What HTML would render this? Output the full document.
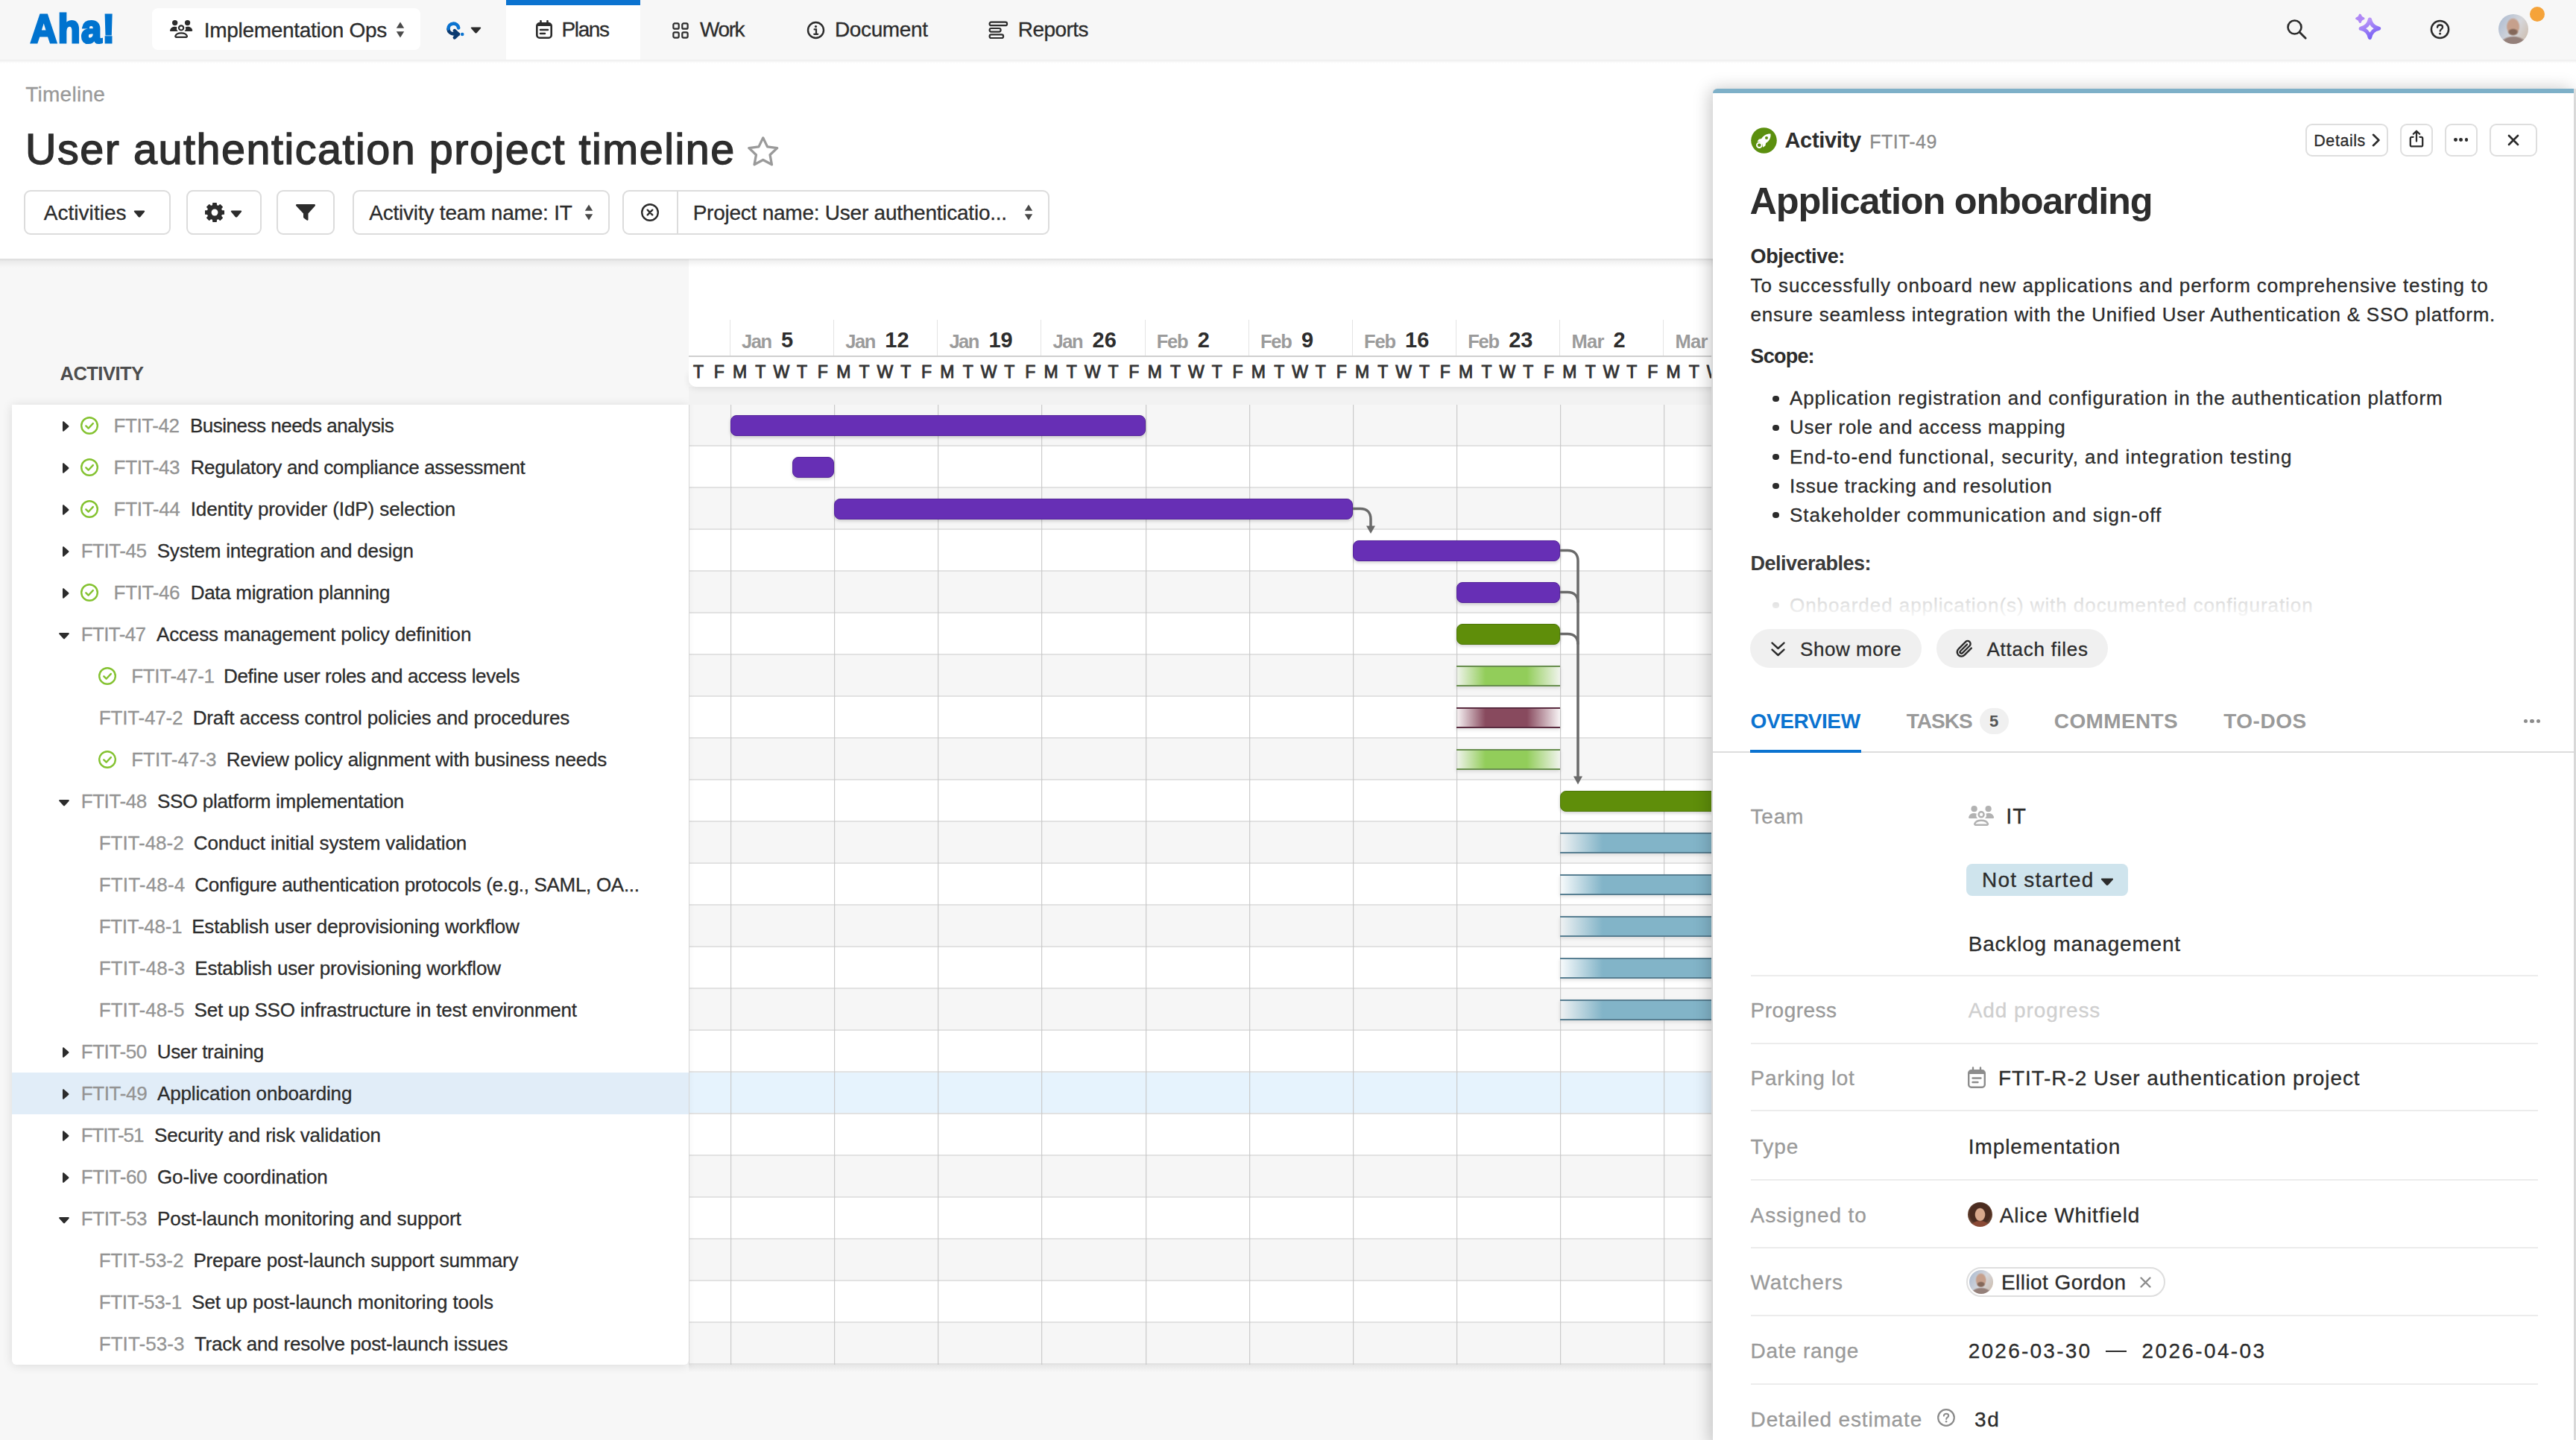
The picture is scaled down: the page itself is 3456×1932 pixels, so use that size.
<!DOCTYPE html>
<html lang="en"><head><meta charset="utf-8"><title>User authentication project timeline</title>
<style>
html,body{margin:0;padding:0}
body{width:3456px;height:1932px;overflow:hidden;background:#f7f7f7;font-family:"Liberation Sans",sans-serif;position:relative}
#app{position:absolute;left:0;top:0;width:3456px;height:1932px;overflow:hidden}
.b{position:absolute;display:block}
.t{position:absolute;white-space:nowrap;font-weight:400}
</style></head>
<body>
<div id="app">
<div class="b" style="left:0px;top:0px;width:3456px;height:80px;background:#f7f7f7;"></div>
<div class="b" style="left:0px;top:80px;width:2298px;height:268px;background:#fff;"></div>
<div class="b" style="left:2298px;top:80px;width:1158px;height:40px;background:#fff;"></div>
<div class="t" style="left:41.4px;top:6.4px;font-size:53.5px;line-height:66px;font-weight:700;color:#0073cf;-webkit-text-stroke:3.2px #0073cf;transform-origin:0 0;transform:scaleX(.915);letter-spacing:1.5px">Aha!</div>
<div class="b" style="left:204px;top:11px;width:360px;height:56px;background:#fff;border-radius:8px;"></div>
<svg class="b" style="left:227px;top:26px" width="32" height="26" viewBox="0 0 32 26"><g fill="#2c2c2c"><circle cx="7.650" cy="4.600" r="3.650"/><circle cx="24.550" cy="4.600" r="3.650"/><path d="M2.200 15.900C1.300 15.900.800 15.200 1 14.400 1.800 11.500 4.300 9.800 7.400 9.800c1.200 0 2.300.200 3.200.700-.500.900-.700 1.900-.500 3 .200.900.700 1.700 1.700 2.400z"/><path transform="translate(32.200 0) scale(-1 1)" d="M2.200 15.900C1.300 15.900.800 15.200 1 14.400 1.800 11.500 4.300 9.800 7.400 9.800c1.200 0 2.300.200 3.200.700-.500.900-.700 1.900-.500 3 .200.900.700 1.700 1.700 2.400z"/></g><circle cx="16.100" cy="11.400" r="3.100" fill="none" stroke="#2c2c2c" stroke-width="2.200"/><path d="M9.400 23.800c-.800 0-1.300-.700-1.100-1.400.900-2.600 3.800-4 7.800-4s6.900 1.400 7.800 4c.200.700-.300 1.400-1.100 1.400z" fill="none" stroke="#2c2c2c" stroke-width="2.200" stroke-linejoin="round"/></svg>
<div class="t" style="left:273.7px;top:23.6px;font-size:28px;line-height:34px;color:#2c2c2c;letter-spacing:-0.30px;-webkit-text-stroke:0.3px #2c2c2c;">Implementation Ops</div>
<svg class="b" style="left:531px;top:28.5px" width="12" height="22" viewBox="0 0 12 22"><path d="M6 0.500l5.200 8.300H0.800z M6 21.500l5.200-8.300H0.800z" fill="#4a4a4a"/></svg>
<svg class="b" style="left:596px;top:26px" width="28" height="28" viewBox="0 0 28 28"><g fill="none" stroke-width="4.6" stroke-linecap="round" stroke-linejoin="round"><path d="M5.500 13.200A6.900 6.900 0 0 0 12.400 19.400L19 19.700" stroke="#0a3a70"/><path d="M13.900 15.200l4.800 4.600-4.800 4.600" stroke="#0a3a70"/><path d="M19.200 11.400A6.900 6.900 0 0 0 5.500 12.500" stroke="#0b73d0"/></g><circle cx="24.200" cy="20" r="2.300" fill="#0b73d0"/></svg>
<svg class="b" style="left:631px;top:36px" width="15" height="9" viewBox="0 0 16 10" preserveAspectRatio="none"><path d="M1.800 0.500h12.400c.9 0 1.300 1 .7 1.700l-5.600 6.700c-.7.800-1.900.8-2.600 0L1.100 2.200C.5 1.500.9.500 1.800.500z" fill="#2c2c2c"/></svg>
<div class="b" style="left:679px;top:0px;width:180px;height:81px;background:#fff;"></div>
<div class="b" style="left:679px;top:0px;width:180px;height:7px;background:#0b73d0;"></div>
<svg class="b" style="left:718px;top:27px" width="24" height="26" viewBox="0 0 24 26"><rect x="2.3" y="4.3" width="19.4" height="19.4" rx="3.5" fill="none" stroke="#2c2c2c" stroke-width="2.6"/><path d="M7.5 1.2v5M16.5 1.2v5M7 13h10M7 18h6" stroke="#2c2c2c" stroke-width="2.6" stroke-linecap="round"/><path d="M3 5h18v3H3z" fill="#2c2c2c"/></svg>
<div class="t" style="left:753.6px;top:23.4px;font-size:28px;line-height:34px;color:#2c2c2c;letter-spacing:-1.41px;-webkit-text-stroke:0.3px #2c2c2c;">Plans</div>
<svg class="b" style="left:902px;top:30px" width="22" height="22" viewBox="0 0 24 24"><g fill="none" stroke="#2c2c2c" stroke-width="2.4"><rect x="1.5" y="1.5" width="8" height="8" rx="2"/><rect x="14.5" y="1.5" width="8" height="8" rx="2"/><rect x="1.5" y="14.5" width="8" height="8" rx="2"/><rect x="14.5" y="14.5" width="8" height="8" rx="2"/></g></svg>
<div class="t" style="left:939.0px;top:23.4px;font-size:28px;line-height:34px;color:#2c2c2c;letter-spacing:-1.41px;-webkit-text-stroke:0.3px #2c2c2c;">Work</div>
<svg class="b" style="left:1082px;top:28px" width="25" height="25" viewBox="0 0 25 25"><circle cx="12.5" cy="12.5" r="10.5" fill="none" stroke="#2c2c2c" stroke-width="2.4"/><circle cx="12.5" cy="7.6" r="1.6" fill="#2c2c2c"/><path d="M10.6 11.4h2.4v6.2M10.2 17.8h5" fill="none" stroke="#2c2c2c" stroke-width="2.2" stroke-linecap="round"/></svg>
<div class="t" style="left:1120.0px;top:23.4px;font-size:28px;line-height:34px;color:#2c2c2c;letter-spacing:-0.38px;-webkit-text-stroke:0.3px #2c2c2c;">Document</div>
<svg class="b" style="left:1326px;top:28px" width="27" height="25" viewBox="0 0 27 25"><g fill="none" stroke="#2c2c2c" stroke-width="2.2"><rect x="1.6" y="1.6" width="23.5" height="4.6" rx="2.3"/><rect x="1.6" y="10" width="15" height="4.6" rx="2.3"/><rect x="1.6" y="18.4" width="18.5" height="4.6" rx="2.3"/></g></svg>
<div class="t" style="left:1365.8px;top:23.4px;font-size:28px;line-height:34px;color:#2c2c2c;letter-spacing:-0.54px;-webkit-text-stroke:0.3px #2c2c2c;">Reports</div>
<svg class="b" style="left:3066px;top:24px" width="30" height="30" viewBox="0 0 30 30"><circle cx="12.5" cy="12.5" r="9" fill="none" stroke="#2c2c2c" stroke-width="2.6"/><path d="M19.2 19.2l8 8" stroke="#2c2c2c" stroke-width="2.8" stroke-linecap="round"/></svg>
<svg class="b" style="left:3156px;top:14px" width="44" height="44" viewBox="0 0 44 44"><defs><linearGradient id="spk" x1="0.2" y1="0" x2="0.7" y2="1"><stop offset="0" stop-color="#bf9af8"/><stop offset="1" stop-color="#7760f4"/></linearGradient></defs><path d="M23.400 12.100Q25.400 22.300 35.600 24.300Q25.400 26.300 23.400 36.500Q21.400 26.300 11.200 24.300Q21.400 22.300 23.400 12.100Z" fill="none" stroke="url(#spk)" stroke-width="5.200" stroke-linejoin="round"/><path d="M10.300 6.200Q11.100 10 14.900 10.800Q11.100 11.600 10.300 15.400Q9.500 11.600 5.700 10.800Q9.500 10 10.300 6.200Z" fill="#b088f6" stroke="#b088f6" stroke-width="3.200" stroke-linejoin="round"/></svg>
<svg class="b" style="left:3258.500px;top:24.500px" width="29" height="29" viewBox="0 0 30 30"><circle cx="15" cy="15" r="12" fill="none" stroke="#2c2c2c" stroke-width="2.6"/><path d="M11.400 12.200c0-2.200 1.600-3.400 3.700-3.400s3.600 1.200 3.600 3.100c0 2.600-3.500 2.700-3.500 5.300" fill="none" stroke="#2c2c2c" stroke-width="2.4" stroke-linecap="round"/><circle cx="15.100" cy="21" r="1.500" fill="#2c2c2c"/></svg>
<div class="b" style="left:3352px;top:19px;width:40px;height:40px;border-radius:50%;background:radial-gradient(ellipse 19% 13% at 49% 60%, rgba(125,98,84,.9) 0 60%, rgba(125,98,84,0) 100%), radial-gradient(ellipse 24% 31% at 49% 42%, #c6a08c 0 75%, rgba(198,160,140,0) 100%), radial-gradient(ellipse 46% 30% at 50% 102%, #94807a 0 80%, rgba(148,128,122,0) 100%), linear-gradient(120deg,#a9b9d0,#d6d7db 55%,#cbb8a6);"></div>
<div class="b" style="left:3394px;top:9px;width:20px;height:20px;background:#f5a33a;border-radius:50%;"></div>
<div class="b" style="left:0px;top:80px;width:3456px;height:5px;background:linear-gradient(rgba(0,0,0,.07),rgba(0,0,0,0));"></div>
<div class="t" style="left:34.2px;top:110.1px;font-size:28px;line-height:34px;color:#999;letter-spacing:0.27px;-webkit-text-stroke:0.3px #999;">Timeline</div>
<div class="t" style="left:34.0px;top:166.4px;font-size:57.5px;line-height:69px;color:#2d2d2d;letter-spacing:1.52px;-webkit-text-stroke:1.4px #2d2d2d;">User authentication project timeline</div>
<svg class="b" style="left:1000.800px;top:181px" width="45.500" height="44" viewBox="0 0 44 42"><path d="M22 3.500l5.600 11.600 12.700 1.700-9.300 8.800 2.300 12.600L22 32.100l-11.300 6.100 2.300-12.600-9.300-8.800 12.700-1.700z" fill="none" stroke="#9a9a9a" stroke-width="3.200" stroke-linejoin="round"/></svg>
<div class="b" style="left:32px;top:255px;width:197px;height:60px;background:#fff;border:2px solid #dcdcdc;border-radius:9px;box-sizing:border-box;"></div>
<div class="t" style="left:58.7px;top:268.9px;font-size:28px;line-height:34px;color:#2c2c2c;letter-spacing:0.05px;-webkit-text-stroke:0.3px #2c2c2c;">Activities</div>
<svg class="b" style="left:179px;top:282px" width="16" height="10" viewBox="0 0 16 10" preserveAspectRatio="none"><path d="M1.800 0.500h12.400c.9 0 1.300 1 .7 1.700l-5.600 6.700c-.7.800-1.900.8-2.600 0L1.100 2.200C.5 1.500.9.500 1.800.500z" fill="#2c2c2c"/></svg>
<div class="b" style="left:249.5px;top:255px;width:101px;height:60px;background:#fff;border:2px solid #dcdcdc;border-radius:9px;box-sizing:border-box;"></div>
<svg class="b" style="left:275px;top:272px" width="26" height="26" viewBox="0 0 100 100"><path d="M42.1 2.7 L57.9 2.7 L58.9 14.1 L69.1 18.3 L77.9 10.9 L89.1 22.1 L81.7 30.9 L85.9 41.1 L97.3 42.1 L97.3 57.9 L85.9 58.9 L81.7 69.1 L89.1 77.9 L77.9 89.1 L69.1 81.7 L58.9 85.9 L57.9 97.3 L42.1 97.3 L41.1 85.9 L30.9 81.7 L22.1 89.1 L10.9 77.9 L18.3 69.1 L14.1 58.9 L2.7 57.9 L2.7 42.1 L14.1 41.1 L18.3 30.9 L10.9 22.1 L22.1 10.9 L30.9 18.3 L41.1 14.1Z" fill="#2c2c2c" stroke="#2c2c2c" stroke-width="6" stroke-linejoin="round"/><circle cx="50" cy="50" r="17" fill="#fff"/></svg>
<svg class="b" style="left:309px;top:282px" width="16" height="10" viewBox="0 0 16 10" preserveAspectRatio="none"><path d="M1.800 0.500h12.400c.9 0 1.300 1 .7 1.700l-5.600 6.700c-.7.800-1.900.8-2.600 0L1.100 2.200C.5 1.500.9.500 1.800.500z" fill="#2c2c2c"/></svg>
<div class="b" style="left:371px;top:255px;width:78px;height:60px;background:#fff;border:2px solid #dcdcdc;border-radius:9px;box-sizing:border-box;"></div>
<svg class="b" style="left:396px;top:273px" width="28" height="24" viewBox="0 0 28 24"><path d="M2.300 1h23.400c1.200 0 1.800 1.300 1 2.200L17.500 13.500v8.200c0 1-1.100 1.500-1.900.9l-4-3.200c-.4-.3-.6-.7-.6-1.200v-4.700L1.300 3.200C.5 2.300 1.100 1 2.300 1z" fill="#2c2c2c"/></svg>
<div class="b" style="left:473px;top:255px;width:345px;height:60px;background:#fff;border:2px solid #dcdcdc;border-radius:9px;box-sizing:border-box;"></div>
<div class="t" style="left:495.2px;top:268.9px;font-size:28px;line-height:34px;color:#2c2c2c;letter-spacing:-0.20px;-webkit-text-stroke:0.3px #2c2c2c;">Activity team name: IT</div>
<svg class="b" style="left:784px;top:274px" width="12" height="22" viewBox="0 0 12 22"><path d="M6 0.500l5.200 8.300H0.800z M6 21.500l5.200-8.300H0.800z" fill="#4a4a4a"/></svg>
<div class="b" style="left:834.5px;top:255px;width:573.5px;height:60px;background:#fff;border:2px solid #dcdcdc;border-radius:9px;box-sizing:border-box;"></div>
<div class="b" style="left:907.5px;top:257px;width:2px;height:56px;background:#dcdcdc;"></div>
<svg class="b" style="left:859px;top:272px" width="26" height="26" viewBox="0 0 26 26"><circle cx="13" cy="13" r="10.800" fill="none" stroke="#2c2c2c" stroke-width="2.400"/><path d="M9.700 9.700l6.600 6.600M16.300 9.700l-6.600 6.600" stroke="#2c2c2c" stroke-width="2.400" stroke-linecap="round"/></svg>
<div class="t" style="left:929.7px;top:268.9px;font-size:28px;line-height:34px;color:#2c2c2c;letter-spacing:-0.24px;-webkit-text-stroke:0.3px #2c2c2c;">Project name: User authenticatio...</div>
<svg class="b" style="left:1373.5px;top:274px" width="12" height="22" viewBox="0 0 12 22"><path d="M6 0.500l5.200 8.300H0.800z M6 21.500l5.200-8.300H0.800z" fill="#4a4a4a"/></svg>
<div class="t" style="left:80.5px;top:485.8px;font-size:25.5px;line-height:31px;color:#4d4d4d;font-weight:700;letter-spacing:-0.52px;">ACTIVITY</div>
<div class="b" style="left:16px;top:543px;width:908px;height:1288px;background:#fff;box-shadow:0 1px 14px rgba(0,0,0,.12);border-radius:0 0 6px 6px;"></div>
<svg class="b" style="left:82.5px;top:563.7px" width="10" height="16" viewBox="0 0 10 16"><path d="M1 2.200c0-.9 1-1.400 1.700-.8l6.300 5.700c.6.500.6 1.300 0 1.800l-6.300 5.700c-.7.600-1.700.1-1.700-.8z" fill="#2c2c2c"/></svg>
<svg class="b" style="left:107px;top:558px" width="26" height="26" viewBox="0 0 26 26"><circle cx="13" cy="13" r="10.800" fill="none" stroke="#84c230" stroke-width="2.400"/><path d="M8.300 13.400l3.300 3.300 6.200-6.600" fill="none" stroke="#84c230" stroke-width="2.400" stroke-linecap="round" stroke-linejoin="round"/></svg>
<div class="t" style="left:152.6px;top:556.1px;font-size:26px;line-height:31px;color:#949494;letter-spacing:-0.44px;-webkit-text-stroke:0.3px #949494;">FTIT-42</div>
<div class="t" style="left:255.0px;top:556.1px;font-size:26px;line-height:31px;color:#2c2c2c;letter-spacing:-0.50px;-webkit-text-stroke:0.3px #2c2c2c;">Business needs analysis</div>
<svg class="b" style="left:82.5px;top:619.7px" width="10" height="16" viewBox="0 0 10 16"><path d="M1 2.200c0-.9 1-1.400 1.700-.8l6.300 5.700c.6.500.6 1.300 0 1.800l-6.300 5.700c-.7.600-1.700.1-1.700-.8z" fill="#2c2c2c"/></svg>
<svg class="b" style="left:107px;top:614px" width="26" height="26" viewBox="0 0 26 26"><circle cx="13" cy="13" r="10.800" fill="none" stroke="#84c230" stroke-width="2.400"/><path d="M8.300 13.400l3.300 3.300 6.200-6.600" fill="none" stroke="#84c230" stroke-width="2.400" stroke-linecap="round" stroke-linejoin="round"/></svg>
<div class="t" style="left:152.6px;top:612.1px;font-size:26px;line-height:31px;color:#949494;letter-spacing:-0.35px;-webkit-text-stroke:0.3px #949494;">FTIT-43</div>
<div class="t" style="left:255.7px;top:612.1px;font-size:26px;line-height:31px;color:#2c2c2c;letter-spacing:-0.34px;-webkit-text-stroke:0.3px #2c2c2c;">Regulatory and compliance assessment</div>
<svg class="b" style="left:82.5px;top:675.7px" width="10" height="16" viewBox="0 0 10 16"><path d="M1 2.200c0-.9 1-1.400 1.700-.8l6.300 5.700c.6.500.6 1.300 0 1.800l-6.300 5.700c-.7.600-1.700.1-1.700-.8z" fill="#2c2c2c"/></svg>
<svg class="b" style="left:107px;top:670px" width="26" height="26" viewBox="0 0 26 26"><circle cx="13" cy="13" r="10.800" fill="none" stroke="#84c230" stroke-width="2.400"/><path d="M8.300 13.400l3.300 3.300 6.200-6.600" fill="none" stroke="#84c230" stroke-width="2.400" stroke-linecap="round" stroke-linejoin="round"/></svg>
<div class="t" style="left:152.6px;top:668.1px;font-size:26px;line-height:31px;color:#949494;letter-spacing:-0.30px;-webkit-text-stroke:0.3px #949494;">FTIT-44</div>
<div class="t" style="left:255.7px;top:668.1px;font-size:26px;line-height:31px;color:#2c2c2c;letter-spacing:-0.09px;-webkit-text-stroke:0.3px #2c2c2c;">Identity provider (IdP) selection</div>
<svg class="b" style="left:82.5px;top:731.7px" width="10" height="16" viewBox="0 0 10 16"><path d="M1 2.200c0-.9 1-1.400 1.700-.8l6.300 5.700c.6.500.6 1.300 0 1.800l-6.300 5.700c-.7.600-1.700.1-1.700-.8z" fill="#2c2c2c"/></svg>
<div class="t" style="left:108.7px;top:724.1px;font-size:26px;line-height:31px;color:#949494;letter-spacing:-0.47px;-webkit-text-stroke:0.3px #949494;">FTIT-45</div>
<div class="t" style="left:210.7px;top:724.1px;font-size:26px;line-height:31px;color:#2c2c2c;letter-spacing:-0.20px;-webkit-text-stroke:0.3px #2c2c2c;">System integration and design</div>
<svg class="b" style="left:82.5px;top:787.7px" width="10" height="16" viewBox="0 0 10 16"><path d="M1 2.200c0-.9 1-1.400 1.700-.8l6.300 5.700c.6.500.6 1.300 0 1.800l-6.300 5.700c-.7.600-1.700.1-1.700-.8z" fill="#2c2c2c"/></svg>
<svg class="b" style="left:107px;top:782px" width="26" height="26" viewBox="0 0 26 26"><circle cx="13" cy="13" r="10.800" fill="none" stroke="#84c230" stroke-width="2.400"/><path d="M8.300 13.400l3.300 3.300 6.200-6.600" fill="none" stroke="#84c230" stroke-width="2.400" stroke-linecap="round" stroke-linejoin="round"/></svg>
<div class="t" style="left:152.6px;top:780.1px;font-size:26px;line-height:31px;color:#949494;letter-spacing:-0.35px;-webkit-text-stroke:0.3px #949494;">FTIT-46</div>
<div class="t" style="left:255.7px;top:780.1px;font-size:26px;line-height:31px;color:#2c2c2c;letter-spacing:-0.31px;-webkit-text-stroke:0.3px #2c2c2c;">Data migration planning</div>
<svg class="b" style="left:78px;top:848px" width="16" height="10" viewBox="0 0 16 10"><path d="M2.200 1c-.9 0-1.400 1-.8 1.700l5.700 6.300c.5.600 1.300.6 1.800 0l5.700-6.300c.6-.7.100-1.700-.8-1.700z" fill="#2c2c2c"/></svg>
<div class="t" style="left:108.7px;top:836.1px;font-size:26px;line-height:31px;color:#949494;letter-spacing:-0.62px;-webkit-text-stroke:0.3px #949494;">FTIT-47</div>
<div class="t" style="left:210.0px;top:836.1px;font-size:26px;line-height:31px;color:#2c2c2c;letter-spacing:-0.16px;-webkit-text-stroke:0.3px #2c2c2c;">Access management policy definition</div>
<svg class="b" style="left:131px;top:894px" width="26" height="26" viewBox="0 0 26 26"><circle cx="13" cy="13" r="10.800" fill="none" stroke="#84c230" stroke-width="2.400"/><path d="M8.300 13.400l3.300 3.300 6.200-6.600" fill="none" stroke="#84c230" stroke-width="2.400" stroke-linecap="round" stroke-linejoin="round"/></svg>
<div class="t" style="left:176.2px;top:892.1px;font-size:26px;line-height:31px;color:#949494;letter-spacing:-0.29px;-webkit-text-stroke:0.3px #949494;">FTIT-47-1</div>
<div class="t" style="left:300.0px;top:892.1px;font-size:26px;line-height:31px;color:#2c2c2c;letter-spacing:-0.34px;-webkit-text-stroke:0.3px #2c2c2c;">Define user roles and access levels</div>
<div class="t" style="left:132.7px;top:948.1px;font-size:26px;line-height:31px;color:#949494;letter-spacing:-0.16px;-webkit-text-stroke:0.3px #949494;">FTIT-47-2</div>
<div class="t" style="left:258.7px;top:948.1px;font-size:26px;line-height:31px;color:#2c2c2c;letter-spacing:-0.14px;-webkit-text-stroke:0.3px #2c2c2c;">Draft access control policies and procedures</div>
<svg class="b" style="left:131px;top:1006px" width="26" height="26" viewBox="0 0 26 26"><circle cx="13" cy="13" r="10.800" fill="none" stroke="#84c230" stroke-width="2.400"/><path d="M8.300 13.400l3.300 3.300 6.200-6.600" fill="none" stroke="#84c230" stroke-width="2.400" stroke-linecap="round" stroke-linejoin="round"/></svg>
<div class="t" style="left:176.2px;top:1004.1px;font-size:26px;line-height:31px;color:#949494;letter-spacing:0.03px;-webkit-text-stroke:0.3px #949494;">FTIT-47-3</div>
<div class="t" style="left:303.7px;top:1004.1px;font-size:26px;line-height:31px;color:#2c2c2c;letter-spacing:-0.23px;-webkit-text-stroke:0.3px #2c2c2c;">Review policy alignment with business needs</div>
<svg class="b" style="left:78px;top:1072px" width="16" height="10" viewBox="0 0 16 10"><path d="M2.200 1c-.9 0-1.400 1-.8 1.700l5.700 6.300c.5.600 1.300.6 1.800 0l5.700-6.300c.6-.7.100-1.700-.8-1.700z" fill="#2c2c2c"/></svg>
<div class="t" style="left:108.7px;top:1060.1px;font-size:26px;line-height:31px;color:#949494;letter-spacing:-0.42px;-webkit-text-stroke:0.3px #949494;">FTIT-48</div>
<div class="t" style="left:211.0px;top:1060.1px;font-size:26px;line-height:31px;color:#2c2c2c;letter-spacing:-0.32px;-webkit-text-stroke:0.3px #2c2c2c;">SSO platform implementation</div>
<div class="t" style="left:132.7px;top:1116.1px;font-size:26px;line-height:31px;color:#949494;letter-spacing:-0.02px;-webkit-text-stroke:0.3px #949494;">FTIT-48-2</div>
<div class="t" style="left:259.8px;top:1116.1px;font-size:26px;line-height:31px;color:#2c2c2c;letter-spacing:-0.11px;-webkit-text-stroke:0.3px #2c2c2c;">Conduct initial system validation</div>
<div class="t" style="left:132.7px;top:1172.1px;font-size:26px;line-height:31px;color:#949494;letter-spacing:0.17px;-webkit-text-stroke:0.3px #949494;">FTIT-48-4</div>
<div class="t" style="left:261.3px;top:1172.1px;font-size:26px;line-height:31px;color:#2c2c2c;letter-spacing:-0.31px;-webkit-text-stroke:0.3px #2c2c2c;">Configure authentication protocols (e.g., SAML, OA...</div>
<div class="t" style="left:132.7px;top:1228.1px;font-size:26px;line-height:31px;color:#949494;letter-spacing:-0.29px;-webkit-text-stroke:0.3px #949494;">FTIT-48-1</div>
<div class="t" style="left:257.2px;top:1228.1px;font-size:26px;line-height:31px;color:#2c2c2c;letter-spacing:-0.19px;-webkit-text-stroke:0.3px #2c2c2c;">Establish user deprovisioning workflow</div>
<div class="t" style="left:132.7px;top:1284.1px;font-size:26px;line-height:31px;color:#949494;letter-spacing:0.17px;-webkit-text-stroke:0.3px #949494;">FTIT-48-3</div>
<div class="t" style="left:261.3px;top:1284.1px;font-size:26px;line-height:31px;color:#2c2c2c;letter-spacing:-0.20px;-webkit-text-stroke:0.3px #2c2c2c;">Establish user provisioning workflow</div>
<div class="t" style="left:132.7px;top:1340.1px;font-size:26px;line-height:31px;color:#949494;letter-spacing:0.08px;-webkit-text-stroke:0.3px #949494;">FTIT-48-5</div>
<div class="t" style="left:260.6px;top:1340.1px;font-size:26px;line-height:31px;color:#2c2c2c;letter-spacing:-0.22px;-webkit-text-stroke:0.3px #2c2c2c;">Set up SSO infrastructure in test environment</div>
<svg class="b" style="left:82.5px;top:1403.7px" width="10" height="16" viewBox="0 0 10 16"><path d="M1 2.200c0-.9 1-1.400 1.700-.8l6.300 5.700c.6.500.6 1.300 0 1.800l-6.300 5.700c-.7.600-1.700.1-1.700-.8z" fill="#2c2c2c"/></svg>
<div class="t" style="left:108.7px;top:1396.1px;font-size:26px;line-height:31px;color:#949494;letter-spacing:-0.42px;-webkit-text-stroke:0.3px #949494;">FTIT-50</div>
<div class="t" style="left:210.7px;top:1396.1px;font-size:26px;line-height:31px;color:#2c2c2c;letter-spacing:-0.32px;-webkit-text-stroke:0.3px #2c2c2c;">User training</div>
<div class="b" style="left:16px;top:1439px;width:908px;height:56px;background:#e1edf8;"></div>
<svg class="b" style="left:82.5px;top:1459.7px" width="10" height="16" viewBox="0 0 10 16"><path d="M1 2.200c0-.9 1-1.400 1.700-.8l6.300 5.700c.6.500.6 1.300 0 1.800l-6.300 5.700c-.7.600-1.700.1-1.700-.8z" fill="#2c2c2c"/></svg>
<div class="t" style="left:108.7px;top:1452.1px;font-size:26px;line-height:31px;color:#949494;letter-spacing:-0.35px;-webkit-text-stroke:0.3px #949494;">FTIT-49</div>
<div class="t" style="left:211.0px;top:1452.1px;font-size:26px;line-height:31px;color:#2c2c2c;letter-spacing:-0.15px;-webkit-text-stroke:0.3px #2c2c2c;">Application onboarding</div>
<svg class="b" style="left:82.5px;top:1515.7px" width="10" height="16" viewBox="0 0 10 16"><path d="M1 2.200c0-.9 1-1.400 1.700-.8l6.300 5.700c.6.500.6 1.300 0 1.800l-6.300 5.700c-.7.600-1.700.1-1.700-.8z" fill="#2c2c2c"/></svg>
<div class="t" style="left:108.7px;top:1508.1px;font-size:26px;line-height:31px;color:#949494;letter-spacing:-1.04px;-webkit-text-stroke:0.3px #949494;">FTIT-51</div>
<div class="t" style="left:207.0px;top:1508.1px;font-size:26px;line-height:31px;color:#2c2c2c;letter-spacing:-0.20px;-webkit-text-stroke:0.3px #2c2c2c;">Security and risk validation</div>
<svg class="b" style="left:82.5px;top:1571.7px" width="10" height="16" viewBox="0 0 10 16"><path d="M1 2.200c0-.9 1-1.400 1.700-.8l6.300 5.700c.6.500.6 1.300 0 1.800l-6.300 5.700c-.7.600-1.700.1-1.700-.8z" fill="#2c2c2c"/></svg>
<div class="t" style="left:108.8px;top:1564.1px;font-size:26px;line-height:31px;color:#949494;letter-spacing:-0.39px;-webkit-text-stroke:0.3px #949494;">FTIT-60</div>
<div class="t" style="left:211.0px;top:1564.1px;font-size:26px;line-height:31px;color:#2c2c2c;letter-spacing:-0.13px;-webkit-text-stroke:0.3px #2c2c2c;">Go-live coordination</div>
<svg class="b" style="left:78px;top:1632px" width="16" height="10" viewBox="0 0 16 10"><path d="M2.200 1c-.9 0-1.400 1-.8 1.700l5.700 6.300c.5.600 1.300.6 1.800 0l5.700-6.300c.6-.7.100-1.700-.8-1.700z" fill="#2c2c2c"/></svg>
<div class="t" style="left:108.8px;top:1620.1px;font-size:26px;line-height:31px;color:#949494;letter-spacing:-0.39px;-webkit-text-stroke:0.3px #949494;">FTIT-53</div>
<div class="t" style="left:211.0px;top:1620.1px;font-size:26px;line-height:31px;color:#2c2c2c;letter-spacing:-0.08px;-webkit-text-stroke:0.3px #2c2c2c;">Post-launch monitoring and support</div>
<div class="t" style="left:132.7px;top:1676.1px;font-size:26px;line-height:31px;color:#949494;letter-spacing:-0.06px;-webkit-text-stroke:0.3px #949494;">FTIT-53-2</div>
<div class="t" style="left:259.4px;top:1676.1px;font-size:26px;line-height:31px;color:#2c2c2c;letter-spacing:-0.18px;-webkit-text-stroke:0.3px #2c2c2c;">Prepare post-launch support summary</div>
<div class="t" style="left:132.7px;top:1732.1px;font-size:26px;line-height:31px;color:#949494;letter-spacing:-0.34px;-webkit-text-stroke:0.3px #949494;">FTIT-53-1</div>
<div class="t" style="left:257.2px;top:1732.1px;font-size:26px;line-height:31px;color:#2c2c2c;letter-spacing:-0.08px;-webkit-text-stroke:0.3px #2c2c2c;">Set up post-launch monitoring tools</div>
<div class="t" style="left:132.7px;top:1788.1px;font-size:26px;line-height:31px;color:#949494;letter-spacing:0.08px;-webkit-text-stroke:0.3px #949494;">FTIT-53-3</div>
<div class="t" style="left:260.9px;top:1788.1px;font-size:26px;line-height:31px;color:#2c2c2c;letter-spacing:-0.22px;-webkit-text-stroke:0.3px #2c2c2c;">Track and resolve post-launch issues</div>
<div class="b" style="left:0;top:0;width:2296px;height:1932px;overflow:hidden">
<div class="b" style="left:924px;top:543px;width:1372px;height:56px;background:#f6f6f6;"></div>
<div class="b" style="left:924px;top:597px;width:1372px;height:2px;background:#e2e2e2;"></div>
<div class="b" style="left:924px;top:599px;width:1372px;height:56px;background:#fff;"></div>
<div class="b" style="left:924px;top:653px;width:1372px;height:2px;background:#e2e2e2;"></div>
<div class="b" style="left:924px;top:655px;width:1372px;height:56px;background:#f6f6f6;"></div>
<div class="b" style="left:924px;top:709px;width:1372px;height:2px;background:#e2e2e2;"></div>
<div class="b" style="left:924px;top:711px;width:1372px;height:56px;background:#fff;"></div>
<div class="b" style="left:924px;top:765px;width:1372px;height:2px;background:#e2e2e2;"></div>
<div class="b" style="left:924px;top:767px;width:1372px;height:56px;background:#f6f6f6;"></div>
<div class="b" style="left:924px;top:821px;width:1372px;height:2px;background:#e2e2e2;"></div>
<div class="b" style="left:924px;top:823px;width:1372px;height:56px;background:#fff;"></div>
<div class="b" style="left:924px;top:877px;width:1372px;height:2px;background:#e2e2e2;"></div>
<div class="b" style="left:924px;top:879px;width:1372px;height:56px;background:#f6f6f6;"></div>
<div class="b" style="left:924px;top:933px;width:1372px;height:2px;background:#e2e2e2;"></div>
<div class="b" style="left:924px;top:935px;width:1372px;height:56px;background:#fff;"></div>
<div class="b" style="left:924px;top:989px;width:1372px;height:2px;background:#e2e2e2;"></div>
<div class="b" style="left:924px;top:991px;width:1372px;height:56px;background:#f6f6f6;"></div>
<div class="b" style="left:924px;top:1045px;width:1372px;height:2px;background:#e2e2e2;"></div>
<div class="b" style="left:924px;top:1047px;width:1372px;height:56px;background:#fff;"></div>
<div class="b" style="left:924px;top:1101px;width:1372px;height:2px;background:#e2e2e2;"></div>
<div class="b" style="left:924px;top:1103px;width:1372px;height:56px;background:#f6f6f6;"></div>
<div class="b" style="left:924px;top:1157px;width:1372px;height:2px;background:#e2e2e2;"></div>
<div class="b" style="left:924px;top:1159px;width:1372px;height:56px;background:#fff;"></div>
<div class="b" style="left:924px;top:1213px;width:1372px;height:2px;background:#e2e2e2;"></div>
<div class="b" style="left:924px;top:1215px;width:1372px;height:56px;background:#f6f6f6;"></div>
<div class="b" style="left:924px;top:1269px;width:1372px;height:2px;background:#e2e2e2;"></div>
<div class="b" style="left:924px;top:1271px;width:1372px;height:56px;background:#fff;"></div>
<div class="b" style="left:924px;top:1325px;width:1372px;height:2px;background:#e2e2e2;"></div>
<div class="b" style="left:924px;top:1327px;width:1372px;height:56px;background:#f6f6f6;"></div>
<div class="b" style="left:924px;top:1381px;width:1372px;height:2px;background:#e2e2e2;"></div>
<div class="b" style="left:924px;top:1383px;width:1372px;height:56px;background:#fff;"></div>
<div class="b" style="left:924px;top:1437px;width:1372px;height:2px;background:#e2e2e2;"></div>
<div class="b" style="left:924px;top:1439px;width:1372px;height:56px;background:#e6f3fd;"></div>
<div class="b" style="left:924px;top:1493px;width:1372px;height:2px;background:#e2e2e2;"></div>
<div class="b" style="left:924px;top:1495px;width:1372px;height:56px;background:#fff;"></div>
<div class="b" style="left:924px;top:1549px;width:1372px;height:2px;background:#e2e2e2;"></div>
<div class="b" style="left:924px;top:1551px;width:1372px;height:56px;background:#f6f6f6;"></div>
<div class="b" style="left:924px;top:1605px;width:1372px;height:2px;background:#e2e2e2;"></div>
<div class="b" style="left:924px;top:1607px;width:1372px;height:56px;background:#fff;"></div>
<div class="b" style="left:924px;top:1661px;width:1372px;height:2px;background:#e2e2e2;"></div>
<div class="b" style="left:924px;top:1663px;width:1372px;height:56px;background:#f6f6f6;"></div>
<div class="b" style="left:924px;top:1717px;width:1372px;height:2px;background:#e2e2e2;"></div>
<div class="b" style="left:924px;top:1719px;width:1372px;height:56px;background:#fff;"></div>
<div class="b" style="left:924px;top:1773px;width:1372px;height:2px;background:#e2e2e2;"></div>
<div class="b" style="left:924px;top:1775px;width:1372px;height:56px;background:#f6f6f6;"></div>
<div class="b" style="left:924px;top:1829px;width:1372px;height:2px;background:#e2e2e2;"></div>
<div class="b" style="left:980px;top:543px;width:1px;height:1288px;background:#cbcbcb;"></div>
<div class="b" style="left:981px;top:543px;width:1px;height:1288px;background:rgba(0,0,0,.035);"></div>
<div class="b" style="left:1119px;top:543px;width:1px;height:1288px;background:#cbcbcb;"></div>
<div class="b" style="left:1120px;top:543px;width:1px;height:1288px;background:rgba(0,0,0,.035);"></div>
<div class="b" style="left:1258px;top:543px;width:1px;height:1288px;background:#cbcbcb;"></div>
<div class="b" style="left:1259px;top:543px;width:1px;height:1288px;background:rgba(0,0,0,.035);"></div>
<div class="b" style="left:1397px;top:543px;width:1px;height:1288px;background:#cbcbcb;"></div>
<div class="b" style="left:1398px;top:543px;width:1px;height:1288px;background:rgba(0,0,0,.035);"></div>
<div class="b" style="left:1537px;top:543px;width:1px;height:1288px;background:#cbcbcb;"></div>
<div class="b" style="left:1538px;top:543px;width:1px;height:1288px;background:rgba(0,0,0,.035);"></div>
<div class="b" style="left:1676px;top:543px;width:1px;height:1288px;background:#cbcbcb;"></div>
<div class="b" style="left:1677px;top:543px;width:1px;height:1288px;background:rgba(0,0,0,.035);"></div>
<div class="b" style="left:1815px;top:543px;width:1px;height:1288px;background:#cbcbcb;"></div>
<div class="b" style="left:1816px;top:543px;width:1px;height:1288px;background:rgba(0,0,0,.035);"></div>
<div class="b" style="left:1954px;top:543px;width:1px;height:1288px;background:#cbcbcb;"></div>
<div class="b" style="left:1955px;top:543px;width:1px;height:1288px;background:rgba(0,0,0,.035);"></div>
<div class="b" style="left:2093px;top:543px;width:1px;height:1288px;background:#cbcbcb;"></div>
<div class="b" style="left:2094px;top:543px;width:1px;height:1288px;background:rgba(0,0,0,.035);"></div>
<div class="b" style="left:2232px;top:543px;width:1px;height:1288px;background:#cbcbcb;"></div>
<div class="b" style="left:2233px;top:543px;width:1px;height:1288px;background:rgba(0,0,0,.035);"></div>
<div class="b" style="left:924px;top:543px;width:8px;height:1288px;background:linear-gradient(90deg,rgba(0,0,0,.025),rgba(0,0,0,0));"></div>
<div class="b" style="left:924px;top:543px;width:1px;height:1288px;background:#d6d6d6;"></div>
<div class="b" style="left:924px;top:519px;width:1372px;height:24px;background:#f2f2f2;"></div>
<div class="b" style="left:924px;top:500px;width:1382px;height:19px;box-shadow:0 2px 10px rgba(0,0,0,.09);border-radius:0 0 0 10px;"></div>
<div class="b" style="left:924px;top:347px;width:1382px;height:172px;background:#fff;border-radius:0 0 0 10px;"></div>
<div class="b" style="left:978.5px;top:429px;width:1.5px;height:49px;background:#e4e4e4;"></div>
<div class="t" style="left:995.1px;top:442.5px;font-size:25.5px;line-height:31px;color:#9b9b9b;font-weight:700;letter-spacing:-1.47px;">Jan</div>
<div class="t" style="left:1048.1px;top:439.3px;font-size:29px;line-height:35px;color:#2d2d2d;font-weight:700;">5</div>
<div class="b" style="left:1117.5px;top:429px;width:1.5px;height:49px;background:#e4e4e4;"></div>
<div class="t" style="left:1134.3px;top:442.5px;font-size:25.5px;line-height:31px;color:#9b9b9b;font-weight:700;letter-spacing:-1.47px;">Jan</div>
<div class="t" style="left:1187.3px;top:439.3px;font-size:29px;line-height:35px;color:#2d2d2d;font-weight:700;">12</div>
<div class="b" style="left:1256.5px;top:429px;width:1.5px;height:49px;background:#e4e4e4;"></div>
<div class="t" style="left:1273.4px;top:442.5px;font-size:25.5px;line-height:31px;color:#9b9b9b;font-weight:700;letter-spacing:-1.47px;">Jan</div>
<div class="t" style="left:1326.4px;top:439.3px;font-size:29px;line-height:35px;color:#2d2d2d;font-weight:700;">19</div>
<div class="b" style="left:1395.5px;top:429px;width:1.5px;height:49px;background:#e4e4e4;"></div>
<div class="t" style="left:1412.6px;top:442.5px;font-size:25.5px;line-height:31px;color:#9b9b9b;font-weight:700;letter-spacing:-1.47px;">Jan</div>
<div class="t" style="left:1465.6px;top:439.3px;font-size:29px;line-height:35px;color:#2d2d2d;font-weight:700;">26</div>
<div class="b" style="left:1535.5px;top:429px;width:1.5px;height:49px;background:#e4e4e4;"></div>
<div class="t" style="left:1551.7px;top:442.5px;font-size:25.5px;line-height:31px;color:#9b9b9b;font-weight:700;letter-spacing:-1.17px;">Feb</div>
<div class="t" style="left:1606.7px;top:439.3px;font-size:29px;line-height:35px;color:#2d2d2d;font-weight:700;">2</div>
<div class="b" style="left:1674.5px;top:429px;width:1.5px;height:49px;background:#e4e4e4;"></div>
<div class="t" style="left:1690.9px;top:442.5px;font-size:25.5px;line-height:31px;color:#9b9b9b;font-weight:700;letter-spacing:-1.17px;">Feb</div>
<div class="t" style="left:1745.9px;top:439.3px;font-size:29px;line-height:35px;color:#2d2d2d;font-weight:700;">9</div>
<div class="b" style="left:1813.5px;top:429px;width:1.5px;height:49px;background:#e4e4e4;"></div>
<div class="t" style="left:1830.1px;top:442.5px;font-size:25.5px;line-height:31px;color:#9b9b9b;font-weight:700;letter-spacing:-1.17px;">Feb</div>
<div class="t" style="left:1885.1px;top:439.3px;font-size:29px;line-height:35px;color:#2d2d2d;font-weight:700;">16</div>
<div class="b" style="left:1952.5px;top:429px;width:1.5px;height:49px;background:#e4e4e4;"></div>
<div class="t" style="left:1969.2px;top:442.5px;font-size:25.5px;line-height:31px;color:#9b9b9b;font-weight:700;letter-spacing:-1.17px;">Feb</div>
<div class="t" style="left:2024.2px;top:439.3px;font-size:29px;line-height:35px;color:#2d2d2d;font-weight:700;">23</div>
<div class="b" style="left:2091.5px;top:429px;width:1.5px;height:49px;background:#e4e4e4;"></div>
<div class="t" style="left:2108.4px;top:442.5px;font-size:25.5px;line-height:31px;color:#9b9b9b;font-weight:700;letter-spacing:-0.67px;">Mar</div>
<div class="t" style="left:2164.4px;top:439.3px;font-size:29px;line-height:35px;color:#2d2d2d;font-weight:700;">2</div>
<div class="b" style="left:2230.5px;top:429px;width:1.5px;height:49px;background:#e4e4e4;"></div>
<div class="t" style="left:2247.5px;top:442.5px;font-size:25.5px;line-height:31px;color:#9b9b9b;font-weight:700;letter-spacing:-0.67px;">Mar</div>
<div class="t" style="left:2303.5px;top:439.3px;font-size:29px;line-height:35px;color:#2d2d2d;font-weight:700;">9</div>
<div class="b" style="left:924px;top:477px;width:1382px;height:2px;background:#cfcfcf;"></div>
<div class="t" style="left:923.0px;top:484.5px;width:28px;text-align:center;font-size:23px;line-height:29px;color:#333;-webkit-text-stroke:.9px #333">T</div>
<div class="t" style="left:950.8px;top:484.5px;width:28px;text-align:center;font-size:23px;line-height:29px;color:#333;-webkit-text-stroke:.9px #333">F</div>
<div class="t" style="left:978.6px;top:484.5px;width:28px;text-align:center;font-size:23px;line-height:29px;color:#333;-webkit-text-stroke:.9px #333">M</div>
<div class="t" style="left:1006.4px;top:484.5px;width:28px;text-align:center;font-size:23px;line-height:29px;color:#333;-webkit-text-stroke:.9px #333">T</div>
<div class="t" style="left:1034.3px;top:484.5px;width:28px;text-align:center;font-size:23px;line-height:29px;color:#333;-webkit-text-stroke:.9px #333">W</div>
<div class="t" style="left:1062.1px;top:484.5px;width:28px;text-align:center;font-size:23px;line-height:29px;color:#333;-webkit-text-stroke:.9px #333">T</div>
<div class="t" style="left:1089.9px;top:484.5px;width:28px;text-align:center;font-size:23px;line-height:29px;color:#333;-webkit-text-stroke:.9px #333">F</div>
<div class="t" style="left:1117.8px;top:484.5px;width:28px;text-align:center;font-size:23px;line-height:29px;color:#333;-webkit-text-stroke:.9px #333">M</div>
<div class="t" style="left:1145.6px;top:484.5px;width:28px;text-align:center;font-size:23px;line-height:29px;color:#333;-webkit-text-stroke:.9px #333">T</div>
<div class="t" style="left:1173.4px;top:484.5px;width:28px;text-align:center;font-size:23px;line-height:29px;color:#333;-webkit-text-stroke:.9px #333">W</div>
<div class="t" style="left:1201.3px;top:484.5px;width:28px;text-align:center;font-size:23px;line-height:29px;color:#333;-webkit-text-stroke:.9px #333">T</div>
<div class="t" style="left:1229.1px;top:484.5px;width:28px;text-align:center;font-size:23px;line-height:29px;color:#333;-webkit-text-stroke:.9px #333">F</div>
<div class="t" style="left:1256.9px;top:484.5px;width:28px;text-align:center;font-size:23px;line-height:29px;color:#333;-webkit-text-stroke:.9px #333">M</div>
<div class="t" style="left:1284.8px;top:484.5px;width:28px;text-align:center;font-size:23px;line-height:29px;color:#333;-webkit-text-stroke:.9px #333">T</div>
<div class="t" style="left:1312.6px;top:484.5px;width:28px;text-align:center;font-size:23px;line-height:29px;color:#333;-webkit-text-stroke:.9px #333">W</div>
<div class="t" style="left:1340.4px;top:484.5px;width:28px;text-align:center;font-size:23px;line-height:29px;color:#333;-webkit-text-stroke:.9px #333">T</div>
<div class="t" style="left:1368.3px;top:484.5px;width:28px;text-align:center;font-size:23px;line-height:29px;color:#333;-webkit-text-stroke:.9px #333">F</div>
<div class="t" style="left:1396.1px;top:484.5px;width:28px;text-align:center;font-size:23px;line-height:29px;color:#333;-webkit-text-stroke:.9px #333">M</div>
<div class="t" style="left:1423.9px;top:484.5px;width:28px;text-align:center;font-size:23px;line-height:29px;color:#333;-webkit-text-stroke:.9px #333">T</div>
<div class="t" style="left:1451.8px;top:484.5px;width:28px;text-align:center;font-size:23px;line-height:29px;color:#333;-webkit-text-stroke:.9px #333">W</div>
<div class="t" style="left:1479.6px;top:484.5px;width:28px;text-align:center;font-size:23px;line-height:29px;color:#333;-webkit-text-stroke:.9px #333">T</div>
<div class="t" style="left:1507.4px;top:484.5px;width:28px;text-align:center;font-size:23px;line-height:29px;color:#333;-webkit-text-stroke:.9px #333">F</div>
<div class="t" style="left:1535.3px;top:484.5px;width:28px;text-align:center;font-size:23px;line-height:29px;color:#333;-webkit-text-stroke:.9px #333">M</div>
<div class="t" style="left:1563.1px;top:484.5px;width:28px;text-align:center;font-size:23px;line-height:29px;color:#333;-webkit-text-stroke:.9px #333">T</div>
<div class="t" style="left:1590.9px;top:484.5px;width:28px;text-align:center;font-size:23px;line-height:29px;color:#333;-webkit-text-stroke:.9px #333">W</div>
<div class="t" style="left:1618.8px;top:484.5px;width:28px;text-align:center;font-size:23px;line-height:29px;color:#333;-webkit-text-stroke:.9px #333">T</div>
<div class="t" style="left:1646.6px;top:484.5px;width:28px;text-align:center;font-size:23px;line-height:29px;color:#333;-webkit-text-stroke:.9px #333">F</div>
<div class="t" style="left:1674.4px;top:484.5px;width:28px;text-align:center;font-size:23px;line-height:29px;color:#333;-webkit-text-stroke:.9px #333">M</div>
<div class="t" style="left:1702.2px;top:484.5px;width:28px;text-align:center;font-size:23px;line-height:29px;color:#333;-webkit-text-stroke:.9px #333">T</div>
<div class="t" style="left:1730.1px;top:484.5px;width:28px;text-align:center;font-size:23px;line-height:29px;color:#333;-webkit-text-stroke:.9px #333">W</div>
<div class="t" style="left:1757.9px;top:484.5px;width:28px;text-align:center;font-size:23px;line-height:29px;color:#333;-webkit-text-stroke:.9px #333">T</div>
<div class="t" style="left:1785.7px;top:484.5px;width:28px;text-align:center;font-size:23px;line-height:29px;color:#333;-webkit-text-stroke:.9px #333">F</div>
<div class="t" style="left:1813.6px;top:484.5px;width:28px;text-align:center;font-size:23px;line-height:29px;color:#333;-webkit-text-stroke:.9px #333">M</div>
<div class="t" style="left:1841.4px;top:484.5px;width:28px;text-align:center;font-size:23px;line-height:29px;color:#333;-webkit-text-stroke:.9px #333">T</div>
<div class="t" style="left:1869.2px;top:484.5px;width:28px;text-align:center;font-size:23px;line-height:29px;color:#333;-webkit-text-stroke:.9px #333">W</div>
<div class="t" style="left:1897.1px;top:484.5px;width:28px;text-align:center;font-size:23px;line-height:29px;color:#333;-webkit-text-stroke:.9px #333">T</div>
<div class="t" style="left:1924.9px;top:484.5px;width:28px;text-align:center;font-size:23px;line-height:29px;color:#333;-webkit-text-stroke:.9px #333">F</div>
<div class="t" style="left:1952.7px;top:484.5px;width:28px;text-align:center;font-size:23px;line-height:29px;color:#333;-webkit-text-stroke:.9px #333">M</div>
<div class="t" style="left:1980.6px;top:484.5px;width:28px;text-align:center;font-size:23px;line-height:29px;color:#333;-webkit-text-stroke:.9px #333">T</div>
<div class="t" style="left:2008.4px;top:484.5px;width:28px;text-align:center;font-size:23px;line-height:29px;color:#333;-webkit-text-stroke:.9px #333">W</div>
<div class="t" style="left:2036.2px;top:484.5px;width:28px;text-align:center;font-size:23px;line-height:29px;color:#333;-webkit-text-stroke:.9px #333">T</div>
<div class="t" style="left:2064.1px;top:484.5px;width:28px;text-align:center;font-size:23px;line-height:29px;color:#333;-webkit-text-stroke:.9px #333">F</div>
<div class="t" style="left:2091.9px;top:484.5px;width:28px;text-align:center;font-size:23px;line-height:29px;color:#333;-webkit-text-stroke:.9px #333">M</div>
<div class="t" style="left:2119.7px;top:484.5px;width:28px;text-align:center;font-size:23px;line-height:29px;color:#333;-webkit-text-stroke:.9px #333">T</div>
<div class="t" style="left:2147.6px;top:484.5px;width:28px;text-align:center;font-size:23px;line-height:29px;color:#333;-webkit-text-stroke:.9px #333">W</div>
<div class="t" style="left:2175.4px;top:484.5px;width:28px;text-align:center;font-size:23px;line-height:29px;color:#333;-webkit-text-stroke:.9px #333">T</div>
<div class="t" style="left:2203.2px;top:484.5px;width:28px;text-align:center;font-size:23px;line-height:29px;color:#333;-webkit-text-stroke:.9px #333">F</div>
<div class="t" style="left:2231.1px;top:484.5px;width:28px;text-align:center;font-size:23px;line-height:29px;color:#333;-webkit-text-stroke:.9px #333">M</div>
<div class="t" style="left:2258.9px;top:484.5px;width:28px;text-align:center;font-size:23px;line-height:29px;color:#333;-webkit-text-stroke:.9px #333">T</div>
<div class="t" style="left:2286.7px;top:484.5px;width:28px;text-align:center;font-size:23px;line-height:29px;color:#333;-webkit-text-stroke:.9px #333">W</div>
<div class="b" style="left:980px;top:557px;width:557px;height:28px;background:#672fb5;border:1.500px solid #55259a;box-sizing:border-box;border-radius:8px;box-shadow:0 2px 4px rgba(0,0,0,.18);"></div>
<div class="b" style="left:1063px;top:613px;width:56px;height:28px;background:#672fb5;border:1.500px solid #55259a;box-sizing:border-box;border-radius:8px;box-shadow:0 2px 4px rgba(0,0,0,.18);"></div>
<div class="b" style="left:1119px;top:669px;width:696px;height:28px;background:#672fb5;border:1.500px solid #55259a;box-sizing:border-box;border-radius:8px;box-shadow:0 2px 4px rgba(0,0,0,.18);"></div>
<div class="b" style="left:1815px;top:725px;width:278px;height:28px;background:#672fb5;border:1.500px solid #55259a;box-sizing:border-box;border-radius:8px;box-shadow:0 2px 4px rgba(0,0,0,.18);"></div>
<div class="b" style="left:1954px;top:781px;width:139px;height:28px;background:#672fb5;border:1.500px solid #55259a;box-sizing:border-box;border-radius:8px;box-shadow:0 2px 4px rgba(0,0,0,.18);"></div>
<div class="b" style="left:1954px;top:837px;width:139px;height:28px;background:#5f8e0a;border:1.500px solid #4d7808;box-sizing:border-box;border-radius:8px;box-shadow:0 2px 4px rgba(0,0,0,.18);"></div>
<div class="b" style="left:1954px;top:893px;width:139px;height:28px;background:linear-gradient(90deg,rgba(146,205,90,.06),rgba(146,205,90,1) 28%,rgba(146,205,90,1) 68%,rgba(146,205,90,.06));border-top:2px solid #688e4e;border-bottom:2px solid #688e4e;box-sizing:border-box;box-shadow:0 2px 5px rgba(0,0,0,.12);"></div>
<div class="b" style="left:1954px;top:949px;width:139px;height:28px;background:linear-gradient(90deg,rgba(136,74,94,.06),rgba(136,74,94,1) 28%,rgba(136,74,94,1) 68%,rgba(136,74,94,.06));border-top:2px solid #5a2c40;border-bottom:2px solid #5a2c40;box-sizing:border-box;box-shadow:0 2px 5px rgba(0,0,0,.12);"></div>
<div class="b" style="left:1954px;top:1005px;width:139px;height:28px;background:linear-gradient(90deg,rgba(146,205,90,.06),rgba(146,205,90,1) 28%,rgba(146,205,90,1) 68%,rgba(146,205,90,.06));border-top:2px solid #688e4e;border-bottom:2px solid #688e4e;box-sizing:border-box;box-shadow:0 2px 5px rgba(0,0,0,.12);"></div>
<div class="b" style="left:2093px;top:1061px;width:418px;height:28px;background:#5f8e0a;border:1.500px solid #4d7808;box-sizing:border-box;border-radius:8px;box-shadow:0 2px 4px rgba(0,0,0,.18);"></div>
<div class="b" style="left:2093px;top:1117px;width:418px;height:28px;background:linear-gradient(90deg,rgba(130,180,200,.05),rgba(130,180,200,1) 57px,rgba(130,180,200,1));border-top:2px solid #587f92;border-bottom:2px solid #587f92;box-sizing:border-box;box-shadow:0 2px 5px rgba(0,0,0,.12);"></div>
<div class="b" style="left:2093px;top:1173px;width:418px;height:28px;background:linear-gradient(90deg,rgba(130,180,200,.05),rgba(130,180,200,1) 57px,rgba(130,180,200,1));border-top:2px solid #587f92;border-bottom:2px solid #587f92;box-sizing:border-box;box-shadow:0 2px 5px rgba(0,0,0,.12);"></div>
<div class="b" style="left:2093px;top:1229px;width:418px;height:28px;background:linear-gradient(90deg,rgba(130,180,200,.05),rgba(130,180,200,1) 57px,rgba(130,180,200,1));border-top:2px solid #587f92;border-bottom:2px solid #587f92;box-sizing:border-box;box-shadow:0 2px 5px rgba(0,0,0,.12);"></div>
<div class="b" style="left:2093px;top:1285px;width:418px;height:28px;background:linear-gradient(90deg,rgba(130,180,200,.05),rgba(130,180,200,1) 57px,rgba(130,180,200,1));border-top:2px solid #587f92;border-bottom:2px solid #587f92;box-sizing:border-box;box-shadow:0 2px 5px rgba(0,0,0,.12);"></div>
<div class="b" style="left:2093px;top:1341px;width:418px;height:28px;background:linear-gradient(90deg,rgba(130,180,200,.05),rgba(130,180,200,1) 57px,rgba(130,180,200,1));border-top:2px solid #587f92;border-bottom:2px solid #587f92;box-sizing:border-box;box-shadow:0 2px 5px rgba(0,0,0,.12);"></div>
<svg class="b" style="left:0;top:0" width="2296" height="1932" viewBox="0 0 2296 1932"><g fill="none" stroke="#6a6a6a" stroke-width="3.500"><path d="M1815.0 682.500h10c9 0 14 5 14 14v10"/><path d="M2093.0 738.500h10c9 0 14 5 14 14V1042"/><path d="M2093.0 794.500h10c9 0 14 5 14 14"/><path d="M2093.0 850.500h10c9 0 14 5 14 14"/></g><g fill="#6a6a6a"><path d="M1833.0 705.500h12l-6 10.500z"/><path d="M2111.0 1041.500h12l-6 11z"/></g></svg>
</div>
<div class="b" style="left:924px;top:1831px;width:1372px;height:10px;background:linear-gradient(rgba(0,0,0,.07),rgba(0,0,0,0));"></div>
<div class="b" style="left:0px;top:347px;width:2298px;height:12px;background:linear-gradient(rgba(0,0,0,.13),rgba(0,0,0,.05) 30%,rgba(0,0,0,0));"></div>
<div class="b" style="left:3453px;top:119px;width:3px;height:1813px;background:#e9e9e9;"></div>
<div class="b" style="left:2298px;top:119px;width:1155px;height:1820px;background:#fff;border-radius:8px 0 0 0;box-shadow:-4px 0 22px rgba(0,0,0,.22);"></div>
<div class="b" style="left:2298px;top:119px;width:1155px;height:6px;background:#7eb0c8;border-radius:8px 0 0 0;"></div>
<svg class="b" style="left:2349px;top:171px" width="35" height="35" viewBox="0 0 35 35"><circle cx="17.500" cy="17.500" r="17.300" fill="#5b8f0e"/><path d="M26.500 8.500c-5.500-.3-9.500 2-12.300 6.600l-3.400.7-2.300 3.200 3.700.4 3.600 3.600.4 3.700 3.200-2.300.7-3.400c4.600-2.800 6.900-6.800 6.400-12.500z" fill="#fff"/><circle cx="21" cy="14" r="2" fill="#5b8f0e"/><circle cx="11.300" cy="23.700" r="3.300" fill="none" stroke="#fff" stroke-width="2"/></svg>
<div class="t" style="left:2394.5px;top:170.6px;font-size:29px;line-height:35px;color:#2d2d2d;font-weight:700;letter-spacing:-0.32px;">Activity</div>
<div class="t" style="left:2508.3px;top:174.6px;font-size:25px;line-height:30px;color:#8c8c8c;letter-spacing:0.42px;-webkit-text-stroke:0.3px #8c8c8c;">FTIT-49</div>
<div class="b" style="left:3093px;top:166px;width:111px;height:44px;background:#fff;border:2px solid #dedede;border-radius:9px;box-sizing:border-box;"></div>
<div class="t" style="left:3104.3px;top:175.8px;font-size:21.5px;line-height:26px;color:#2c2c2c;letter-spacing:0.55px;-webkit-text-stroke:0.3px #2c2c2c;">Details</div>
<svg class="b" style="left:3182px;top:179px" width="12" height="18" viewBox="0 0 12 18"><path d="M2 1.800l7.400 7.200L2 16.200" fill="none" stroke="#2c2c2c" stroke-width="2.600" stroke-linecap="round" stroke-linejoin="round"/></svg>
<div class="b" style="left:3220px;top:166px;width:44px;height:44px;background:#fff;border:2px solid #dedede;border-radius:9px;box-sizing:border-box;"></div>
<svg class="b" style="left:3232px;top:174px" width="20" height="24" viewBox="0 0 20 24"><path d="M5.600 9.800H3.800c-1.100 0-2 .9-2 2v8.600c0 1.100.9 2 2 2h12.400c1.100 0 2-.9 2-2v-8.600c0-1.100-.9-2-2-2h-1.800M10 15.500V2M5.800 5.800L10 1.700l4.200 4.100" fill="none" stroke="#2c2c2c" stroke-width="2.300" stroke-linecap="round" stroke-linejoin="round"/></svg>
<div class="b" style="left:3280px;top:166px;width:44px;height:44px;background:#fff;border:2px solid #dedede;border-radius:9px;box-sizing:border-box;"></div>
<div class="b" style="left:3292.4px;top:185.2px;width:4.9px;height:4.9px;background:#2c2c2c;border-radius:50%;"></div>
<div class="b" style="left:3299.4500000000003px;top:185.2px;width:4.9px;height:4.9px;background:#2c2c2c;border-radius:50%;"></div>
<div class="b" style="left:3306.5px;top:185.2px;width:4.9px;height:4.9px;background:#2c2c2c;border-radius:50%;"></div>
<div class="b" style="left:3340px;top:166px;width:64px;height:44px;background:#fff;border:2px solid #dedede;border-radius:9px;box-sizing:border-box;"></div>
<svg class="b" style="left:3364px;top:180px" width="16" height="16" viewBox="0 0 16 16"><path d="M2 2l12 12M14 2L2 14" stroke="#2c2c2c" stroke-width="2.700" stroke-linecap="round"/></svg>
<div class="t" style="left:2347.5px;top:239.2px;font-size:50.5px;line-height:61px;color:#2d2d2d;font-weight:700;letter-spacing:-1.22px;">Application onboarding</div>
<div class="t" style="left:2348.6px;top:328.2px;font-size:27px;line-height:32px;color:#2c2c2c;font-weight:700;letter-spacing:-0.42px;">Objective:</div>
<div class="t" style="left:2348.6px;top:368.1px;font-size:26px;line-height:31px;color:#2c2c2c;letter-spacing:0.90px;-webkit-text-stroke:0.3px #2c2c2c;">To successfully onboard new applications and perform comprehensive testing to</div>
<div class="t" style="left:2348.6px;top:406.8px;font-size:26px;line-height:31px;color:#2c2c2c;letter-spacing:0.77px;-webkit-text-stroke:0.3px #2c2c2c;">ensure seamless integration with the Unified User Authentication &amp; SSO platform.</div>
<div class="t" style="left:2348.6px;top:461.9px;font-size:27px;line-height:32px;color:#2c2c2c;font-weight:700;letter-spacing:-0.80px;">Scope:</div>
<div class="b" style="left:2378.4px;top:530.6px;width:8.2px;height:8.2px;background:#2c2c2c;border-radius:50%;"></div>
<div class="t" style="left:2401.0px;top:519.3px;font-size:26px;line-height:31px;color:#2c2c2c;letter-spacing:0.90px;-webkit-text-stroke:0.3px #2c2c2c;">Application registration and configuration in the authentication platform</div>
<div class="b" style="left:2378.4px;top:569.7px;width:8.2px;height:8.2px;background:#2c2c2c;border-radius:50%;"></div>
<div class="t" style="left:2401.0px;top:558.4px;font-size:26px;line-height:31px;color:#2c2c2c;letter-spacing:0.69px;-webkit-text-stroke:0.3px #2c2c2c;">User role and access mapping</div>
<div class="b" style="left:2378.4px;top:608.8000000000001px;width:8.2px;height:8.2px;background:#2c2c2c;border-radius:50%;"></div>
<div class="t" style="left:2401.0px;top:597.5px;font-size:26px;line-height:31px;color:#2c2c2c;letter-spacing:0.98px;-webkit-text-stroke:0.3px #2c2c2c;">End-to-end functional, security, and integration testing</div>
<div class="b" style="left:2378.4px;top:647.9px;width:8.2px;height:8.2px;background:#2c2c2c;border-radius:50%;"></div>
<div class="t" style="left:2401.0px;top:636.6px;font-size:26px;line-height:31px;color:#2c2c2c;letter-spacing:0.74px;-webkit-text-stroke:0.3px #2c2c2c;">Issue tracking and resolution</div>
<div class="b" style="left:2378.4px;top:687.0px;width:8.2px;height:8.2px;background:#2c2c2c;border-radius:50%;"></div>
<div class="t" style="left:2401.0px;top:675.7px;font-size:26px;line-height:31px;color:#2c2c2c;letter-spacing:0.94px;-webkit-text-stroke:0.3px #2c2c2c;">Stakeholder communication and sign-off</div>
<div class="t" style="left:2348.6px;top:739.5px;font-size:27px;line-height:32px;color:#3a3a3a;font-weight:700;letter-spacing:-0.51px;">Deliverables:</div>
<div class="b" style="left:2378.4px;top:808.0px;width:8.2px;height:8.2px;background:#c4c4c4;border-radius:50%;"></div>
<div class="t" style="left:2401.0px;top:796.7px;font-size:26px;line-height:31px;color:#bdbdbd;letter-spacing:0.94px;-webkit-text-stroke:0.3px #bdbdbd;">Onboarded application(s) with documented configuration</div>
<div class="b" style="left:2340px;top:770px;width:1080px;height:68px;background:linear-gradient(rgba(255,255,255,0),rgba(255,255,255,.55) 60%,#fff 92%);"></div>
<div class="b" style="left:2348px;top:844px;width:230px;height:52px;background:#f0f0f0;border-radius:26px;"></div>
<svg class="b" style="left:2375px;top:860px" width="21" height="22" viewBox="0 0 21 22"><path d="M2.500 2.600l8 7.400 8-7.400M2.500 11.600l8 7.400 8-7.400" fill="none" stroke="#2c2c2c" stroke-width="2.400" stroke-linecap="round" stroke-linejoin="round"/></svg>
<div class="t" style="left:2415.0px;top:855.9px;font-size:26px;line-height:31px;color:#2c2c2c;letter-spacing:0.54px;-webkit-text-stroke:0.3px #2c2c2c;">Show more</div>
<div class="b" style="left:2598px;top:844px;width:230px;height:52px;background:#f0f0f0;border-radius:26px;"></div>
<svg class="b" style="left:2623px;top:857px" width="26" height="27" viewBox="0 0 26 27"><path d="M21.800 12.600l-9.300 9.300c-2.300 2.300-5.900 2.300-8.100 0s-2.300-5.900 0-8.100l9.700-9.700c1.500-1.500 3.900-1.500 5.400 0s1.500 3.900 0 5.400l-9.700 9.700c-.7.700-1.900.7-2.700 0s-.7-1.900 0-2.700l8.900-8.900" fill="none" stroke="#2c2c2c" stroke-width="2.400" stroke-linecap="round" stroke-linejoin="round"/></svg>
<div class="t" style="left:2665.4px;top:855.9px;font-size:26px;line-height:31px;color:#2c2c2c;letter-spacing:0.77px;-webkit-text-stroke:0.3px #2c2c2c;">Attach files</div>
<div class="t" style="left:2348.6px;top:951.1px;font-size:28px;line-height:34px;color:#0b73d0;font-weight:700;letter-spacing:-0.42px;">OVERVIEW</div>
<div class="t" style="left:2557.8px;top:951.1px;font-size:28px;line-height:34px;color:#9a9a9a;font-weight:700;letter-spacing:-0.96px;">TASKS</div>
<div class="b" style="left:2656px;top:949.5px;width:39px;height:35px;background:#f0f0f0;border-radius:18px;"></div>
<div class="t" style="left:2668.9px;top:954.8px;font-size:22px;line-height:26px;color:#555;font-weight:700;">5</div>
<div class="t" style="left:2755.8px;top:951.1px;font-size:28px;line-height:34px;color:#9a9a9a;font-weight:700;letter-spacing:0.38px;">COMMENTS</div>
<div class="t" style="left:2983.2px;top:951.1px;font-size:28px;line-height:34px;color:#9a9a9a;font-weight:700;letter-spacing:0.52px;">TO-DOS</div>
<div class="b" style="left:3386.0px;top:964.5px;width:5.4px;height:5.4px;background:#8c8c8c;border-radius:50%;"></div>
<div class="b" style="left:3394.3px;top:964.5px;width:5.4px;height:5.4px;background:#8c8c8c;border-radius:50%;"></div>
<div class="b" style="left:3402.6px;top:964.5px;width:5.4px;height:5.4px;background:#8c8c8c;border-radius:50%;"></div>
<div class="b" style="left:2298px;top:1008px;width:1155px;height:2px;background:#dddddd;"></div>
<div class="b" style="left:2348px;top:1006px;width:149px;height:4px;background:#0b73d0;"></div>
<div class="t" style="left:2348.6px;top:1079.3px;font-size:28px;line-height:34px;color:#9a9a9a;letter-spacing:0.74px;-webkit-text-stroke:0.3px #9a9a9a;">Team</div>
<svg class="b" style="left:2639.5px;top:1080px" width="36" height="29.25" viewBox="0 0 32 26"><g fill="#b2b2b2"><circle cx="7.650" cy="4.600" r="3.650"/><circle cx="24.550" cy="4.600" r="3.650"/><path d="M2.200 15.900C1.300 15.900.800 15.200 1 14.400 1.800 11.500 4.300 9.800 7.400 9.800c1.200 0 2.300.200 3.200.700-.500.900-.700 1.900-.500 3 .200.900.700 1.700 1.700 2.400z"/><path transform="translate(32.200 0) scale(-1 1)" d="M2.200 15.900C1.300 15.900.800 15.200 1 14.400 1.800 11.500 4.300 9.800 7.400 9.800c1.200 0 2.300.200 3.200.700-.500.900-.700 1.900-.500 3 .200.900.700 1.700 1.700 2.400z"/></g><circle cx="16.100" cy="11.400" r="3.100" fill="none" stroke="#b2b2b2" stroke-width="2.200"/><path d="M9.400 23.800c-.800 0-1.300-.700-1.100-1.400.900-2.600 3.800-4 7.800-4s6.900 1.400 7.800 4c.200.700-.300 1.400-1.100 1.400z" fill="none" stroke="#b2b2b2" stroke-width="2.200" stroke-linejoin="round"/></svg>
<div class="t" style="left:2691.3px;top:1077.5px;font-size:29px;line-height:35px;color:#2c2c2c;letter-spacing:0.80px;-webkit-text-stroke:0.3px #2c2c2c;">IT</div>
<div class="b" style="left:2638px;top:1159px;width:217px;height:43px;background:#cfe4ed;border-radius:8px;"></div>
<div class="t" style="left:2659.0px;top:1164.2px;font-size:28px;line-height:34px;color:#2c2c2c;letter-spacing:1.23px;-webkit-text-stroke:0.3px #2c2c2c;">Not started</div>
<svg class="b" style="left:2818px;top:1177.5px" width="18" height="10.5" viewBox="0 0 16 10" preserveAspectRatio="none"><path d="M1.800 0.500h12.400c.9 0 1.300 1 .7 1.700l-5.600 6.700c-.7.800-1.900.8-2.600 0L1.100 2.200C.5 1.500.9.500 1.800.500z" fill="#2c2c2c"/></svg>
<div class="t" style="left:2640.7px;top:1249.6px;font-size:28px;line-height:34px;color:#2c2c2c;letter-spacing:0.80px;-webkit-text-stroke:0.3px #2c2c2c;">Backlog management</div>
<div class="b" style="left:2348.5px;top:1307.6px;width:1056px;height:2px;background:#ececec;"></div>
<div class="t" style="left:2348.6px;top:1338.6px;font-size:28px;line-height:34px;color:#9a9a9a;letter-spacing:0.49px;-webkit-text-stroke:0.3px #9a9a9a;">Progress</div>
<div class="t" style="left:2640.7px;top:1338.6px;font-size:28px;line-height:34px;color:#cfcfcf;letter-spacing:0.92px;-webkit-text-stroke:0.3px #cfcfcf;">Add progress</div>
<div class="b" style="left:2348.5px;top:1398.5px;width:1056px;height:2px;background:#ececec;"></div>
<div class="t" style="left:2348.6px;top:1429.9px;font-size:28px;line-height:34px;color:#9a9a9a;letter-spacing:0.70px;-webkit-text-stroke:0.3px #9a9a9a;">Parking lot</div>
<svg class="b" style="left:2639px;top:1431px" width="26" height="30" viewBox="0 0 26 30"><rect x="2.200" y="5.200" width="21.600" height="22.600" rx="3.500" fill="none" stroke="#8c8c8c" stroke-width="2.400"/><path d="M8 1.500v5M18 1.500v5M7.500 15.500h11M7.500 21h7" stroke="#8c8c8c" stroke-width="2.400" stroke-linecap="round"/><path d="M3 6h20v4H3z" fill="#8c8c8c"/></svg>
<div class="t" style="left:2680.9px;top:1429.9px;font-size:28px;line-height:34px;color:#2c2c2c;letter-spacing:0.91px;-webkit-text-stroke:0.3px #2c2c2c;">FTIT-R-2 User authentication project</div>
<div class="b" style="left:2348.5px;top:1489.3px;width:1056px;height:2px;background:#ececec;"></div>
<div class="t" style="left:2348.6px;top:1522.4px;font-size:28px;line-height:34px;color:#9a9a9a;letter-spacing:1.03px;-webkit-text-stroke:0.3px #9a9a9a;">Type</div>
<div class="t" style="left:2640.7px;top:1522.4px;font-size:28px;line-height:34px;color:#2c2c2c;letter-spacing:0.94px;-webkit-text-stroke:0.3px #2c2c2c;">Implementation</div>
<div class="b" style="left:2348.5px;top:1582.2px;width:1056px;height:2px;background:#ececec;"></div>
<div class="t" style="left:2348.6px;top:1613.7px;font-size:28px;line-height:34px;color:#9a9a9a;letter-spacing:0.89px;-webkit-text-stroke:0.3px #9a9a9a;">Assigned to</div>
<div class="b" style="left:2640px;top:1613px;width:33px;height:33px;border-radius:50%;background:radial-gradient(ellipse 22% 28% at 50% 50%, #d9a98c 0 85%, rgba(0,0,0,0) 100%), radial-gradient(ellipse 40% 26% at 50% 100%, #8a4a36 0 85%, rgba(0,0,0,0) 100%), radial-gradient(circle at 50% 45%, #4b2c20 0 55%, #7a5540 75%, #9c7e68 100%);"></div>
<div class="t" style="left:2682.7px;top:1613.7px;font-size:28px;line-height:34px;color:#2c2c2c;letter-spacing:0.85px;-webkit-text-stroke:0.3px #2c2c2c;">Alice Whitfield</div>
<div class="b" style="left:2348.5px;top:1672.6px;width:1056px;height:2px;background:#ececec;"></div>
<div class="t" style="left:2348.6px;top:1704.1px;font-size:28px;line-height:34px;color:#9a9a9a;letter-spacing:0.87px;-webkit-text-stroke:0.3px #9a9a9a;">Watchers</div>
<div class="b" style="left:2638px;top:1700px;width:267px;height:40px;background:#fff;border:2px solid #dedede;border-radius:20px;box-sizing:border-box;"></div>
<div class="b" style="left:2642px;top:1704px;width:32px;height:32px;border-radius:50%;background:radial-gradient(ellipse 19% 13% at 49% 60%, rgba(125,98,84,.9) 0 60%, rgba(125,98,84,0) 100%), radial-gradient(ellipse 24% 31% at 49% 42%, #c6a08c 0 75%, rgba(198,160,140,0) 100%), radial-gradient(ellipse 46% 30% at 50% 102%, #94807a 0 80%, rgba(148,128,122,0) 100%), linear-gradient(120deg,#a9b9d0,#d6d7db 55%,#cbb8a6);"></div>
<div class="t" style="left:2685.0px;top:1704.1px;font-size:28px;line-height:34px;color:#2c2c2c;letter-spacing:0.43px;-webkit-text-stroke:0.3px #2c2c2c;">Elliot Gordon</div>
<svg class="b" style="left:2870px;top:1712px" width="17" height="17" viewBox="0 0 17 17"><path d="M2.500 2.500l12 12M14.500 2.500l-12 12" stroke="#8c8c8c" stroke-width="2.400" stroke-linecap="round"/></svg>
<div class="b" style="left:2348.5px;top:1763.5px;width:1056px;height:2px;background:#ececec;"></div>
<div class="t" style="left:2348.6px;top:1796.4px;font-size:28px;line-height:34px;color:#9a9a9a;letter-spacing:0.68px;-webkit-text-stroke:0.3px #9a9a9a;">Date range</div>
<div class="t" style="left:2640.7px;top:1796.4px;font-size:28px;line-height:34px;color:#2c2c2c;letter-spacing:2.25px;-webkit-text-stroke:0.3px #2c2c2c;">2026-03-30</div>
<div class="b" style="left:2825px;top:1811.5px;width:28px;height:2.4px;background:#2c2c2c;"></div>
<div class="t" style="left:2873.6px;top:1796.4px;font-size:28px;line-height:34px;color:#2c2c2c;letter-spacing:2.35px;-webkit-text-stroke:0.3px #2c2c2c;">2026-04-03</div>
<div class="b" style="left:2348.5px;top:1855.7px;width:1056px;height:2px;background:#ececec;"></div>
<div class="t" style="left:2348.6px;top:1887.7px;font-size:28px;line-height:34px;color:#9a9a9a;letter-spacing:0.83px;-webkit-text-stroke:0.3px #9a9a9a;">Detailed estimate</div>
<svg class="b" style="left:2598px;top:1888.500px" width="26" height="26" viewBox="0 0 26 26"><circle cx="13" cy="13" r="10.800" fill="none" stroke="#8c8c8c" stroke-width="2.200"/><path d="M9.900 10.600c0-1.900 1.400-2.900 3.200-2.900s3.100 1 3.100 2.700c0 2.200-3 2.300-3 4.500" fill="none" stroke="#8c8c8c" stroke-width="2.100" stroke-linecap="round"/><circle cx="13.100" cy="18.200" r="1.300" fill="#8c8c8c"/></svg>
<div class="t" style="left:2649.0px;top:1887.7px;font-size:28px;line-height:34px;color:#2c2c2c;letter-spacing:1.65px;-webkit-text-stroke:0.3px #2c2c2c;">3d</div>
</div>
<script>(function(){var w=window.innerWidth||3456;if(w&&Math.abs(w-3456)>1){var a=document.getElementById("app");a.style.transformOrigin="0 0";a.style.transform="scale("+(w/3456)+")";document.body.style.width=w+"px";document.body.style.height=(1932*w/3456)+"px";}})();</script>
</body></html>
